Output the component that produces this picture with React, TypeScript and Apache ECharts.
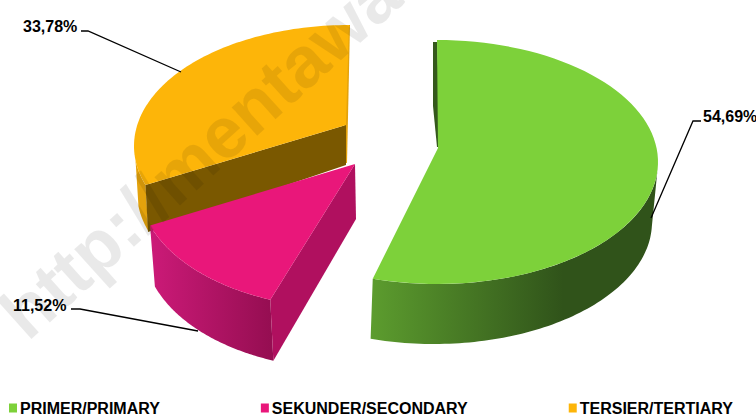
import React, { useEffect, useRef } from "react";
import * as echarts from "echarts";

const categories = ["PRIMER/PRIMARY", "SEKUNDER/SECONDARY", "TERSIER/TERTIARY"];
const shares = [54.69, 11.52, 33.78];
const labels = ["54,69%", "11,52%", "33,78%"];
const colors = ["#7dd13a", "#e9177a", "#fdb509"];

type Geo = {
  top: [number, number]; bottom: [number, number]; rx: number; ry: number; brx: number; bry: number;
  apex: [number, number]; warp: number; wall: string[]; wallFrom: number; wallTo: number;
  labelPos: [number, number]; leader: number[][];
};

const geometry: Geo[] = [
  {
    top: [437, 162], bottom: [434, 222], rx: 221, ry: 122, brx: 218, bry: 122,
    apex: [438, 148], warp: 0, wall: ["#5c9c2e", "#30531a", "#30531a"], wallFrom: 372, wallTo: 653,
    labelPos: [703, 116], leader: [[701, 121], [693, 121], [651, 218]],
  },
  {
    top: [345, 186], bottom: [347, 247], rx: 206, ry: 122, brx: 203, bry: 122,
    apex: [355, 164], warp: 15, wall: ["#cc1a78", "#960e52"], wallFrom: 150, wallTo: 270,
    labelPos: [13, 305], leader: [[71, 309], [80, 309], [198, 331]],
  },
  {
    top: [349, 146], bottom: [349, 192], rx: 215, ry: 121, brx: 212, bry: 121,
    apex: [346, 125], warp: 15, wall: ["#e3a20c", "#e3a20c"], wallFrom: 130, wallTo: 160,
    labelPos: [23, 26], leader: [[81, 31], [88, 31], [181, 72]],
  },
];

const warpAngle = (deg: number, k: number) =>
  deg > 180 ? deg + k * Math.sin(((deg - 180) * Math.PI) / 180) : deg;

const arc = (c: number[], rx: number, ry: number, a0: number, a1: number) => {
  const pts: number[][] = [];
  const n = 80;
  for (let i = 0; i <= n; i++) {
    const t = ((a0 + ((a1 - a0) * i) / n) * Math.PI) / 180;
    pts.push([c[0] + rx * Math.sin(t), c[1] - ry * Math.cos(t)]);
  }
  return pts;
};

const total = shares.reduce((a, b) => a + b, 0);
const startOf = (i: number) => (shares.slice(0, i).reduce((a, b) => a + b, 0) / total) * 360;

const poly = (points: number[][], fill: any, z2 = 0) => ({
  type: "polygon", shape: { points }, style: { fill, stroke: "none" }, z2,
});

const renderSlice = (index: number) => (_p: any, api: any) => {
  const value = api.value(0);
  const g = geometry[index];
  const a0 = startOf(index);
  const a1 = a0 + (value / total) * 360;
  const w0 = warpAngle(a0, g.warp);
  const w1 = warpAngle(a1, g.warp);
  const gradient = new echarts.graphic.LinearGradient(
    g.wallFrom, 0, g.wallTo, 0,
    g.wall.map((c, i) => ({ offset: i === 1 && g.wall.length === 3 ? 0.68 : i / (g.wall.length - 1), color: c })),
    true,
  );
  const children: any[] = [];
  const rim = (from: number, to: number) => {
    const t = arc(g.top, g.rx, g.ry, from, to);
    const b = arc(g.bottom, g.brx, g.bry, from, to).reverse();
    return [...t, ...b];
  };
  if (index === 0) {
    children.push(poly([[433, 42], [433, 106], [437, 147], [441, 147], [437, 42]], "#35591c"));
    children.push(poly(rim(92, w1), gradient));
  } else if (index === 1) {
    const end = arc(g.bottom, g.brx, g.bry, w0, w0)[0];
    const start = arc(g.top, g.rx, g.ry, w0, w0)[0];
    children.push(poly(rim(w0, w1), gradient));
    children.push(poly([g.apex, start, end, [356, 219]], "#b0105f"));
  } else {
    const start = arc(g.top, g.rx, g.ry, w0, w0)[0];
    children.push(poly(rim(w0, w0 + 12), "#e3a20c"));
    children.push(poly([[350, 25], [347, 163], [344, 163], [345, 25]], "#e3a20c"));
    children.push(poly([g.apex, start, [148, 232], [346, 165]], "#7a5800"));
  }
  children.push(poly([g.apex, ...arc(g.top, g.rx, g.ry, w0, w1)], colors[index], 2));
  children.push({
    type: "polyline", shape: { points: g.leader },
    style: { stroke: "#000", lineWidth: 1.3, fill: "none" }, z2: 3,
  });
  children.push({
    type: "text", z2: 3,
    style: {
      text: labels[index], x: g.labelPos[0], y: g.labelPos[1],
      verticalAlign: "middle", align: "left", fill: "#000",
      font: 'bold 16px "Liberation Sans", Arial, sans-serif',
    },
  });
  return { type: "group", children };
};

export default function App() {
  const ref = useRef<HTMLDivElement>(null);
  useEffect(() => {
    document.body.style.margin = "0";
    const chart = echarts.init(ref.current!, null, { renderer: "svg" });
    chart.setOption({
      animation: false,
      backgroundColor: "#fff",
      legend: {
        left: 9, top: 400, itemWidth: 8, itemHeight: 9, itemGap: 101, padding: 0,
        icon: "rect",
        data: categories,
        textStyle: {
          color: "#000", fontSize: 16, fontWeight: "bold", padding: [0, 0, 0, -2],
          fontFamily: '"Liberation Sans", Arial, sans-serif',
        },
        selectedMode: false,
      },
      graphic: [
        {
          type: "text", x: -13, y: 297, rotation: (42 * Math.PI) / 180, silent: true, z: 100,
          style: {
            text: "http://mentawai", fill: "rgba(0,0,0,0.085)",
            font: 'bold 72px "Liberation Sans", Arial, sans-serif',
          },
        },
      ],
      series: categories.map((name, i) => ({
        type: "custom", name, coordinateSystem: "none",
        z: i === 1 ? 3 : 2,
        itemStyle: { color: colors[i] },
        renderItem: renderSlice(i),
        data: [[shares[i]]],
      })),
    });
    return () => chart.dispose();
  }, []);
  return <div ref={ref} style={{ width: 756, height: 417 }} />;
}
